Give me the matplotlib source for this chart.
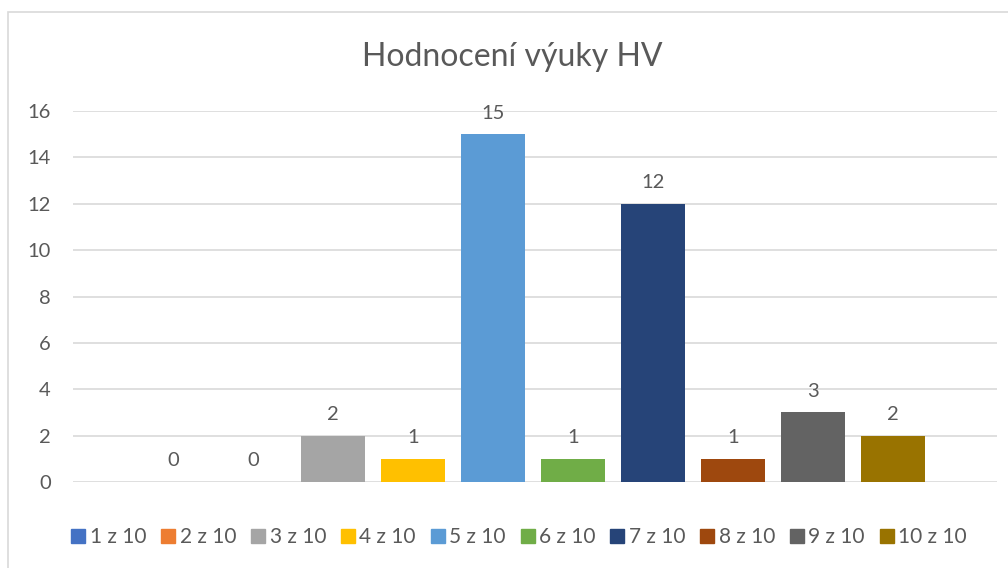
import numpy as np
import matplotlib.pyplot as plt
from matplotlib.patches import Rectangle
from matplotlib.lines import Line2D

# ---- data ----
series = ['1 z 10', '2 z 10', '3 z 10', '4 z 10', '5 z 10',
          '6 z 10', '7 z 10', '8 z 10', '9 z 10', '10 z 10']
counts = [0, 0, 2, 1, 15, 1, 12, 1, 3, 2]
colors = ['#4472C4', '#ED7D31', '#A5A5A5', '#FFC000', '#5B9BD5',
          '#70AD47', '#264478', '#9E480E', '#636363', '#997300']
title = 'Hodnocení výuky HV'

txt = '#595959'
grid = '#D9D9D9'
plt.rcParams['font.family'] = ['Lato', 'DejaVu Sans']

fig = plt.figure(figsize=(10.08, 5.68), dpi=100)
fig.patch.set_facecolor('white')
# chart border (excel style)
fig.patches.append(Rectangle((8 / 1008, -0.1), 1.2, 1 - 12 / 568 + 0.1,
                             transform=fig.transFigure, fill=False,
                             edgecolor=grid, linewidth=1.2))

ax = fig.add_axes([73 / 1008, 1 - 482 / 568, (997 - 73) / 1008, (482 - 111) / 568])

x = np.arange(len(series))
bars = ax.bar(x, counts, width=0.79, color=colors, zorder=3)

for xi, v in zip(x, counts):
    ax.annotate(str(v), (xi, v), xytext=(0, 9), textcoords='offset points',
                ha='center', va='bottom', fontsize=14.5, color=txt)

ax.set_xlim(-1.25, 10.3)
ax.set_ylim(0, 16)
ax.set_yticks(range(0, 17, 2))
ax.set_xticks([])
ax.grid(axis='y', color=grid, linewidth=1.2, zorder=0)
for s in ax.spines.values():
    s.set_visible(False)
ax.tick_params(axis='y', length=0, pad=16, labelsize=14.5, labelcolor=txt)

fig.text(512 / 1008, 1 - 57 / 568, title, ha='center', va='center',
         fontsize=23, color=txt)

handles = [Line2D([], [], marker='s', linestyle='none', markersize=10,
                  markerfacecolor=c, markeredgecolor=c) for c in colors]
fig.legend(handles, series, loc='center', bbox_to_anchor=(519 / 1008, 1 - 537 / 568),
           ncol=10, frameon=False, fontsize=15, labelcolor=txt,
           handlelength=0.7, handletextpad=0.2, columnspacing=0.7,
           borderaxespad=0)

fig.savefig('out.png', dpi=100)
